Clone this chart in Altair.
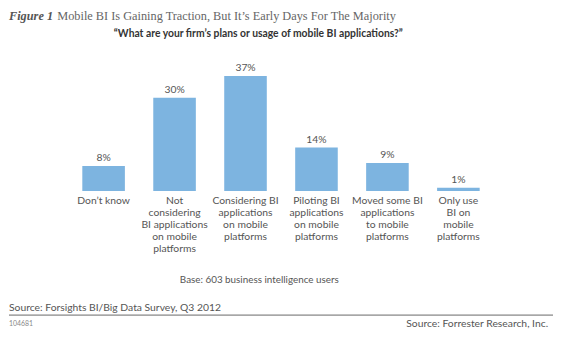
import altair as alt
import pandas as pd

categories = [
    "Don\u2019t know",
    "Not|considering|BI applications|on mobile|platforms",
    "Considering BI|applications|on mobile|platforms",
    "Piloting BI|applications|on mobile|platforms",
    "Moved some BI|applications|to mobile|platforms",
    "Only use|BI on|mobile|platforms",
]
values = [8, 30, 37, 14, 9, 1]
value_labels = ["8%", "30%", "37%", "14%", "9%", "1%"]

title_prefix = "Figure 1"
title_text = "Mobile BI Is Gaining Traction, But It\u2019s Early Days For The Majority"
question = "\u201cWhat are your firm\u2019s plans or usage of mobile BI applications?\u201d"
base_note = "Base: 603 business intelligence users"
source_left = "Source: Forsights BI/Big Data Survey, Q3 2012"
doc_id = "104681"
source_right = "Source: Forrester Research, Inc."

df = pd.DataFrame({"cat": categories, "value": values, "label": value_labels})

SANS = "Lato"
SERIF = "Liberation Serif"
GRAY = "#555555"
BAR = "#7DB4E0"

x = alt.X("cat:N", sort=categories, title=None,
          scale=alt.Scale(paddingInner=0.4, paddingOuter=0.2),
          axis=alt.Axis(labelExpr="split(datum.label, '|')", labelAngle=0,
                        domain=False, ticks=False, labelPadding=5,
                        labelFont=SANS, labelFontSize=10.5, labelColor=GRAY,
                        labelLineHeight=12, labelBaseline="top"))
y = alt.Y("value:Q", scale=alt.Scale(domain=[0, 40]), axis=None)

bars = alt.Chart(df).mark_bar(color=BAR).encode(x=x, y=y)
labels = alt.Chart(df).mark_text(font=SANS, fontSize=10.5, color=GRAY,
                                 baseline="bottom", dy=-3).encode(x=x, y=y, text="label:N")

one = alt.Data(values=[{}])

def txt(s, xv, yv, **kw):
    return alt.Chart(one).mark_text(text=s, baseline="middle", **kw).encode(
        x=alt.value(xv), y=alt.value(yv))

t1 = txt(title_prefix, -60, -51, align="left", font=SERIF, fontSize=12.5,
         fontStyle="italic", fontWeight="bold", color="#555555")
t2 = txt(title_text, -11, -51, align="left", font=SERIF, fontSize=12.5, color="#666666")
t3 = txt(question, 193, -33, align="center", font=SANS, fontSize=10.5,
         fontWeight="bold", color="#333333")
t4 = txt(base_note, 194, 216, align="center", font=SANS, fontSize=10, color=GRAY)
t5 = txt(source_left, -60, 245, align="left", font=SANS, fontSize=10.5, color=GRAY)
t6 = txt(doc_id, -60, 261, align="left", font=SANS, fontSize=7, color="#888888")
t7 = txt(source_right, 487, 261, align="right", font=SANS, fontSize=10.5, color=GRAY)
rule = alt.Chart(one).mark_rule(color="#666666", strokeWidth=1).encode(
    x=alt.value(-60), x2=alt.value(492), y=alt.value(252))

chart = alt.layer(bars, labels, t1, t2, t3, t4, t5, t6, t7, rule).properties(
    width=432, height=126,
    autosize=alt.AutoSizeParams(type="none"),
    padding={"left": 61, "top": 57, "right": 60, "bottom": 171},
    background="white",
).configure_view(stroke=None)

chart.save("out.html", embed_options={"renderer": "svg", "actions": False})
